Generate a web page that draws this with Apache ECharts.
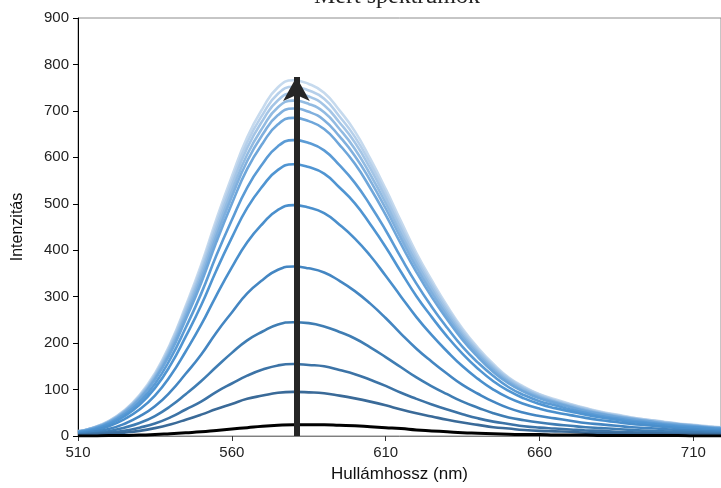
<!DOCTYPE html>
<html>
<head>
<meta charset="utf-8">
<script src="https://cdn.jsdelivr.net/npm/echarts@6/dist/echarts.min.js"></script>
<style>html,body{margin:0;padding:0;background:#fff}#c{width:721px;height:488px}</style>
</head>
<body>
<div id="c"></div>
<script>
// wavelengths (nm), 510..720 step 5
const wavelengths = [510,515,520,525,530,535,540,545,550,555,560,565,570,575,580,585,590,595,600,605,610,615,620,625,630,635,640,645,650,655,660,665,670,675,680,685,690,695,700,705,710,715,720];

const sBlack = [0,0,1,1,2,3,5,7,9,12,15,18,21,23,24,24,24,23,22,20,18,16,13,11,9,7,6,5,4,3,3,2,2,2,1,1,1,1,1,1,0,0,0];
const s095 = [1,2,4,7,11,17,25,35,46,58,69,80,87,93,95,94,92,87,81,74,66,57,49,42,35,29,24,19,16,13,11,10,9,7,6,6,5,4,4,3,3,3,2];
const s155 = [2,4,7,11,18,27,40,57,74,95,113,130,143,152,155,153,150,142,133,121,108,93,80,68,57,47,38,31,26,21,18,16,14,12,11,9,8,7,6,5,5,4,4];
const s245 = [3,6,10,18,28,43,64,90,118,149,179,206,225,240,245,243,236,224,210,191,170,148,126,107,90,74,61,49,40,34,29,25,22,19,17,15,13,11,10,9,8,7,6];
const s365 = [5,9,15,26,42,64,95,134,175,223,266,307,336,358,365,361,352,334,312,285,254,220,188,160,134,110,91,74,60,50,43,38,33,28,25,22,19,17,15,13,11,10,9];
const s497 = [6,12,21,36,57,87,129,182,239,303,363,417,457,487,497,492,480,455,425,388,345,300,256,217,182,150,123,100,82,69,59,51,45,39,34,30,26,23,20,17,15,13,12];
const s585 = [8,14,25,42,67,103,152,214,281,357,427,491,538,573,585,579,565,535,501,456,407,353,301,256,214,177,145,118,97,81,69,60,53,46,40,35,30,27,23,20,18,16,14];
const s637 = [8,15,27,46,73,112,166,233,306,389,465,535,586,624,637,631,615,583,545,497,443,384,328,278,233,192,158,129,105,88,75,66,57,50,43,38,33,29,25,22,20,17,15];
const s685 = [9,16,29,49,79,121,178,251,329,418,500,575,630,671,685,678,661,627,586,534,476,413,353,299,251,207,170,138,113,95,81,71,62,53,47,41,36,32,27,24,21,18,16];
const s705 = [9,17,30,51,81,124,183,258,338,430,515,592,649,691,705,698,680,645,603,550,490,425,363,308,258,213,175,142,116,97,83,73,63,55,48,42,37,32,28,25,22,19,17];
const s722 = [9,17,30,52,83,127,188,264,347,440,527,606,664,708,722,715,697,661,618,563,502,435,372,316,264,218,179,146,119,100,85,74,65,56,49,43,38,33,29,25,22,19,17];
const s738 = [10,18,31,53,85,130,192,270,354,450,539,620,679,723,738,731,712,675,632,576,513,445,380,323,270,223,183,149,122,102,87,76,66,58,50,44,38,34,30,26,23,20,18];
const s752 = [10,18,32,54,86,132,196,275,361,459,549,632,692,737,752,744,726,688,644,587,523,453,387,329,275,227,186,152,124,104,89,77,68,59,51,45,39,35,30,26,23,20,18];
const s766 = [10,18,32,55,88,135,199,280,368,467,559,643,705,751,766,758,739,701,656,597,532,462,394,335,280,231,190,155,126,106,90,79,69,60,52,46,40,35,31,27,24,21,18];

const xTicks = [510,560,610,660,710];
const yTicks = [0,100,200,300,400,500,600,700,800,900];

// arrow: from 0 up to the top of the spectra at the peak wavelength
const arrowX = 581;
const arrowFrom = 0;
const arrowTo = 773;

const blueSeries = [
  [s766,'#c6daee'],[s752,'#b5cfea'],[s738,'#a4c5e6'],[s722,'#92bbe2'],[s705,'#80b0de'],
  [s685,'#6ea6da'],[s637,'#5b9bd5'],[s585,'#5095d2'],[s497,'#4a8fcc'],[s365,'#4486c2'],
  [s245,'#3f7db3'],[s155,'#3c73a6'],[s095,'#3a6a98']
];

const series = blueSeries.map(([vals,col]) => ({
  type:'line', data: wavelengths.map((w,i)=>[w,vals[i]]),
  showSymbol:false, smooth:true, lineStyle:{color:col,width:2.6}, silent:true
}));
series.push({
  type:'line', data: wavelengths.map((w,i)=>[w,sBlack[i]]),
  showSymbol:false, smooth:true, lineStyle:{color:'#000',width:3}, silent:true,
  markLine:{
    silent:true, animation:false,
    symbol:['none','arrow'], symbolSize:[20,24],
    label:{show:false},
    lineStyle:{color:'#262626',width:6,type:'solid'},
    data:[[{coord:[arrowX,arrowFrom]},{coord:[arrowX,arrowTo]}]]
  }
});

const chart = echarts.init(document.getElementById('c'), null, {renderer:'canvas'});
chart.setOption({
  animation:false,
  backgroundColor:'#fff',
  grid:{left:78, right:-2, top:18, bottom:52, show:true, borderColor:'#8c8c8c', borderWidth:1, backgroundColor:'transparent'},
  graphic:[{
    type:'text', x:397, y:-15,
    style:{text:'Mért spektrumok', font:'24px "Liberation Serif", serif', fill:'#222', textAlign:'center', textVerticalAlign:'top'}
  }],
  xAxis:{
    type:'value', min:510, max:719, interval:50,
    name:'Hullámhossz (nm)', nameLocation:'middle', nameGap:30,
    nameTextStyle:{fontFamily:'Liberation Sans', fontSize:17, color:'#111'},
    axisLine:{show:true, lineStyle:{color:'#7f7f7f', width:1}},
    axisTick:{show:true, length:5, lineStyle:{color:'#333'}},
    axisLabel:{fontFamily:'Liberation Sans', fontSize:15, color:'#222', margin:9, showMaxLabel:false,
      formatter: v => xTicks.includes(v) ? String(v) : ''},
    splitLine:{show:false}
  },
  yAxis:{
    type:'value', min:0, max:900, interval:100,
    name:'Intenzitás', nameLocation:'middle', nameGap:52,
    nameTextStyle:{fontFamily:'Liberation Sans', fontSize:16, color:'#111'},
    axisLine:{show:true, lineStyle:{color:'#000', width:1}},
    axisTick:{show:true, length:5, lineStyle:{color:'#000'}},
    axisLabel:{fontFamily:'Liberation Sans', fontSize:15, color:'#222', margin:9,
      formatter: v => yTicks.includes(v) ? String(v) : ''},
    splitLine:{show:false}
  },
  series: series
});
</script>
</body>
</html>
